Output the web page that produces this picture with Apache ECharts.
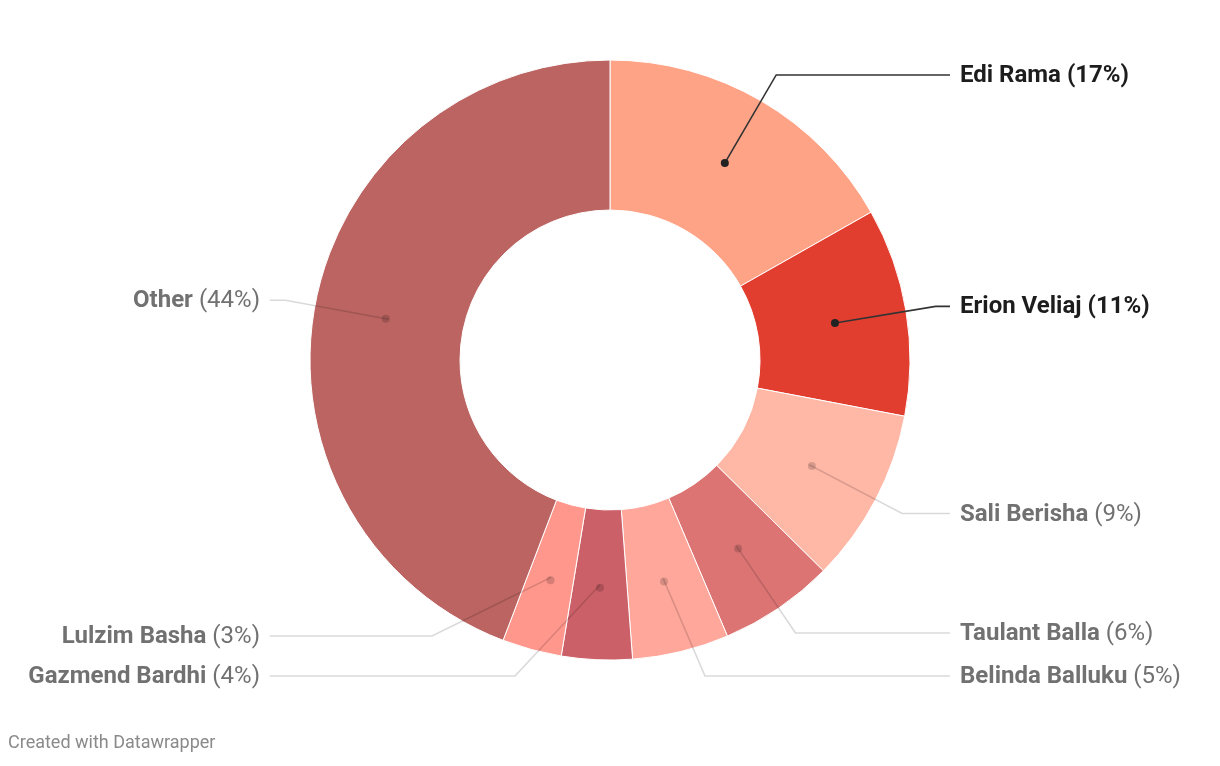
<!DOCTYPE html>
<html>
<head>
<meta charset="utf-8">
<script src="https://cdn.jsdelivr.net/npm/echarts@6/dist/echarts.min.js"></script>
<style>
  html, body { margin: 0; padding: 0; background: #fff; }
  #chart { width: 1220px; height: 766px; }
</style>
</head>
<body>
<div id="chart"></div>
<script>
// ---- Data ----
const categories = ['Edi Rama', 'Erion Veliaj', 'Sali Berisha', 'Taulant Balla', 'Belinda Balluku', 'Gazmend Bardhi', 'Lulzim Basha', 'Other'];
const shares = [16.8, 11.2, 9.4, 6.2, 5.2, 3.8, 3.2, 44.2];
const sliceColors = ['#ffa386', '#e13e30', '#ffb7a6', '#dc7474', '#ffa79b', '#cc6068', '#ff978c', '#bb6461'];
const highlighted = ['Edi Rama', 'Erion Veliaj'];

// ---- Layout (pixels) ----
const CENTER_Y_PCT = 0.47;
const R_IN = 150, R_OUT = 300, R_MID = (R_IN + R_OUT) / 2;
const LINE_EXT = 30;          // radial extension beyond the ring
const LINE_END = 340;         // horizontal distance from centre to end of line
const LABEL_GAP = 10;
const LABEL_SIZE = 24;
// elbow overrides for labels moved to avoid overlap (relative to centre)
const elbowOverrides = {
  'Belinda Balluku': [95, 316],
  'Gazmend Bardhi': [-95, 316],
  'Lulzim Basha': [-178, 276]
};

const chart = echarts.init(document.getElementById('chart'), null, { renderer: 'canvas' });
const total = shares.reduce((a, b) => a + b, 0);
const FONT = 'Roboto, "Noto Sans", sans-serif';

function isHl(name) { return highlighted.indexOf(name) >= 0; }

function labelLayout(params) {
  const w = chart.getWidth(), h = chart.getHeight();
  const cx = w * 0.5, cy = h * CENTER_Y_PCT;
  let ux, uy;
  const pts = params.labelLinePoints;
  if (pts && pts[0]) {
    const dx = pts[0][0] - cx, dy = pts[0][1] - cy;
    const len = Math.hypot(dx, dy) || 1;
    ux = dx / len; uy = dy / len;
  } else {
    let cum = 0;
    for (let i = 0; i < params.dataIndex; i++) cum += shares[i];
    const a = (cum + shares[params.dataIndex] / 2) / total * Math.PI * 2;
    ux = Math.sin(a); uy = -Math.cos(a);
  }
  const name = categories[params.dataIndex];
  const dot = [cx + ux * R_MID, cy + uy * R_MID];
  const o = elbowOverrides[name];
  const elbow = o ? [cx + o[0], cy + o[1]] : [cx + ux * (R_OUT + LINE_EXT), cy + uy * (R_OUT + LINE_EXT)];
  const right = ux >= 0;
  const endX = cx + (right ? LINE_END : -LINE_END);
  return {
    x: cx + (right ? LINE_END + LABEL_GAP : -(LINE_END + LABEL_GAP)),
    y: elbow[1] + 1,
    align: right ? 'left' : 'right',
    verticalAlign: 'middle',
    labelLinePoints: [dot, elbow, [endX, elbow[1]]]
  };
}

const baseData = categories.map((c, i) => ({ name: c, value: shares[i] }));

const option = {
  animation: false,
  backgroundColor: '#ffffff',
  title: {
    text: 'Created with Datawrapper',
    left: 3,
    top: 729,
    textStyle: { fontFamily: FONT, fontSize: 18, fontWeight: 'normal', color: '#8a8a8a' }
  },
  series: [
    {
      type: 'pie',
      z: 1,
      silent: true,
      center: ['50%', (CENTER_Y_PCT * 100) + '%'],
      radius: [R_IN, R_OUT],
      startAngle: 90,
      clockwise: true,
      avoidLabelOverlap: false,
      label: { show: false },
      labelLine: { show: false },
      itemStyle: { borderColor: '#ffffff', borderWidth: 1 },
      data: baseData.map((d, i) => ({ name: d.name, value: d.value, itemStyle: { color: sliceColors[i] } }))
    },
    {
      type: 'pie',
      z: 5,
      silent: true,
      center: ['50%', (CENTER_Y_PCT * 100) + '%'],
      radius: [R_IN, R_OUT],
      startAngle: 90,
      clockwise: true,
      avoidLabelOverlap: false,
      itemStyle: { color: 'rgba(0,0,0,0)' },
      label: {
        show: true,
        position: 'outside',
        fontFamily: FONT,
        fontSize: LABEL_SIZE,
        formatter: function (p) {
          const pct = Math.round(p.value);
          if (isHl(p.name)) return '{b|' + p.name + ' (' + pct + '%)}';
          return '{n|' + p.name + ' }{p|(' + pct + '%)}';
        },
        rich: {
          b: { fontFamily: FONT, fontSize: LABEL_SIZE, fontWeight: 'bold', color: '#1d1d1d' },
          n: { fontFamily: FONT, fontSize: LABEL_SIZE, fontWeight: 'bold', color: '#717171' },
          p: { fontFamily: FONT, fontSize: LABEL_SIZE, fontWeight: 'normal', color: '#717171' }
        }
      },
      labelLine: { show: true, length: LINE_EXT, length2: 10, smooth: false },
      labelLayout: labelLayout,
      data: baseData.map(d => ({
        name: d.name,
        value: d.value,
        labelLine: { lineStyle: isHl(d.name) ? { color: '#333333', width: 1.6 } : { color: 'rgba(0,0,0,0.15)', width: 1.6 } }
      }))
    },
    {
      type: 'pie',
      z: 6,
      silent: true,
      center: ['50%', (CENTER_Y_PCT * 100) + '%'],
      radius: [R_IN, R_OUT],
      startAngle: 90,
      clockwise: true,
      avoidLabelOverlap: false,
      itemStyle: { color: 'rgba(0,0,0,0)' },
      labelLine: { show: false },
      label: {
        show: true,
        position: 'inside',
        rotate: 0,
        formatter: function (p) { return isHl(p.name) ? '{k|}' : '{g|}'; },
        rich: {
          k: { width: 8, height: 8, borderRadius: 4, backgroundColor: '#222222' },
          g: { width: 8, height: 8, borderRadius: 4, backgroundColor: 'rgba(0,0,0,0.16)' }
        }
      },
      data: baseData.map(d => ({ name: d.name, value: d.value }))
    }
  ]
};
chart.setOption(option);
</script>
</body>
</html>
